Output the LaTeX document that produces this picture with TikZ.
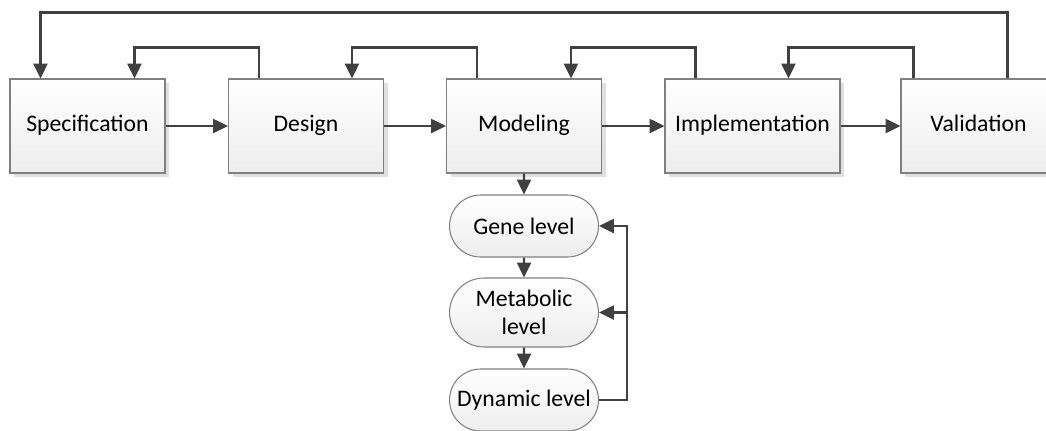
\documentclass[tikz,border=0pt]{standalone}
\usepackage{fontspec}
\setmainfont{Carlito}
\usetikzlibrary{arrows.meta,calc,shapes.misc,shadows}
\definecolor{linegray}{HTML}{404040}
\definecolor{bordergray}{HTML}{808080}
\begin{document}
\begin{tikzpicture}[x=0.02cm,y=-0.02cm,
  font=\fontsize{13.5}{16}\selectfont,
  stage/.style={draw=bordergray, line width=0.6pt, rectangle, align=center,
    minimum width=3.1cm, minimum height=1.88cm, inner sep=2pt,
    text height=1.9ex, text depth=0.5ex,
    top color=white, bottom color=black!7,
    drop shadow={shadow xshift=2.5pt, shadow yshift=-2.5pt, fill=black!12, opacity=1}},
  level/.style={draw=bordergray, line width=0.6pt, rounded rectangle, align=center,
    minimum width=3.12cm, minimum height=1.24cm, inner sep=2pt,
    top color=white, bottom color=black!7},
  flow/.style={draw=linegray, line width=1.25pt,
    -{Triangle[length=8.5pt,width=8pt]}}]
\useasboundingbox (0,0) rectangle (1046,430);

% main stages
\node[stage] (spec) at (87.5,126) {Specification};
\node[stage] (design) at (306,126) {Design};
\node[stage] (model) at (524,126) {Modeling};
\node[stage, minimum width=3.5cm] (impl) at (752.5,126) {Implementation};
\node[stage] (valid) at (978.5,126) {Validation};

% modeling levels
\node[level] (gene) at (524,226) {Gene level};
\node[level, minimum height=1.38cm] (metab) at (524,312.5) {Metabolic\\level};
\node[level] (dyn) at (524,400) {Dynamic level};

\draw[flow] (spec) -- (design);
\draw[flow] (design) -- (model);
\draw[flow] (model) -- (impl);
\draw[flow] (impl) -- (valid);

% feedback loops
\draw[flow] ($(design.north west)+(31,0)$) -- ++(0,-31) -| ($(spec.north west)+(125,0)$);
\draw[flow] ($(model.north west)+(31,0)$) -- ++(0,-31) -| ($(design.north west)+(124,0)$);
\draw[flow] ($(impl.north west)+(31,0)$) -- ++(0,-31) -| ($(model.north west)+(125,0)$);
\draw[flow] ($(valid.north west)+(13,0)$) -- ++(0,-31) -| ($(impl.north west)+(124,0)$);
\draw[flow] ($(valid.north west)+(107,0)$) -- ++(0,-66) -| ($(spec.north west)+(31,0)$);

\draw[flow] (model) -- (gene);
\draw[flow] (gene) -- (metab);
\draw[flow] (metab) -- (dyn);
\draw[flow] (dyn.east) -- ++(28,0) |- (gene.east);
\draw[flow] (dyn.east) ++(28,0) |- (metab.east);
\end{tikzpicture}
\end{document}
